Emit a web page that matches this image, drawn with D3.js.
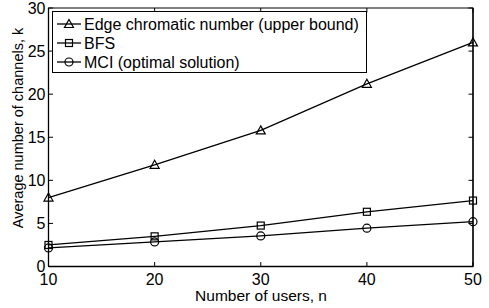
<!DOCTYPE html>
<html>
<head>
<meta charset="utf-8">
<script src="https://cdn.jsdelivr.net/npm/d3@7"></script>
<style>
body { margin: 0; background: #fff; }
text { font-family: "Liberation Sans", Arial, sans-serif; fill: #000; }
</style>
</head>
<body>
<svg width="489" height="308"></svg>
<script>
var users = [10, 20, 30, 40, 50];
var edgeChromatic = [8.0, 11.8, 15.8, 21.2, 26.0];
var bfs = [2.5, 3.5, 4.75, 6.35, 7.65];
var mci = [2.15, 2.85, 3.55, 4.45, 5.2];
var xTicks = [10, 20, 30, 40, 50];
var yTicks = [0, 5, 10, 15, 20, 25, 30];

var series = [
    {name: "Edge chromatic number (upper bound)", values: edgeChromatic, marker: "triangle"},
    {name: "BFS", values: bfs, marker: "square"},
    {name: "MCI (optimal solution)", values: mci, marker: "circle"}
];

var svg = d3.select('svg');
var pLeft = 48.5, pRight = 473, pTop = 8, pBottom = 266.5;

var x = d3.scaleLinear().domain([10, 50]).range([pLeft, pRight]);
var y = d3.scaleLinear().domain([0, 30]).range([pBottom, pTop]);

// axes box
var g = svg.append('g');
g.append('rect')
    .attr('x', pLeft).attr('y', pTop)
    .attr('width', pRight - pLeft).attr('height', pBottom - pTop)
    .attr('fill', 'none').attr('stroke', '#000').attr('stroke-width', 1);

// inner ticks on all four sides (matlab style)
var tl = 4.5;
xTicks.forEach(function (t) {
    g.append('line').attr('x1', x(t)).attr('x2', x(t)).attr('y1', pBottom).attr('y2', pBottom - tl).attr('stroke', '#000');
    g.append('line').attr('x1', x(t)).attr('x2', x(t)).attr('y1', pTop).attr('y2', pTop + tl).attr('stroke', '#000');
    g.append('text').attr('x', x(t)).attr('y', pBottom + 18)
        .attr('text-anchor', 'middle').attr('font-size', 16).text(t);
});
yTicks.forEach(function (t) {
    g.append('line').attr('x1', pLeft).attr('x2', pLeft + tl).attr('y1', y(t)).attr('y2', y(t)).attr('stroke', '#000');
    g.append('line').attr('x1', pRight).attr('x2', pRight - tl).attr('y1', y(t)).attr('y2', y(t)).attr('stroke', '#000');
    g.append('text').attr('x', pLeft - 3).attr('y', y(t) + 5.5)
        .attr('text-anchor', 'end').attr('font-size', 16).text(t);
});
g.append('line').attr('x1', pLeft).attr('x2', pRight).attr('y1', pBottom).attr('y2', pBottom).attr('stroke', '#000').attr('stroke-width', 1.6);
g.append('line').attr('x1', pLeft).attr('x2', pLeft).attr('y1', pTop).attr('y2', pBottom).attr('stroke', '#000').attr('stroke-width', 1.3);
g.append('line').attr('x1', pRight).attr('x2', pRight).attr('y1', pTop).attr('y2', pBottom).attr('stroke', '#000').attr('stroke-width', 1.3);

// axis labels
svg.append('text').attr('x', 261).attr('y', 301)
    .attr('text-anchor', 'middle').attr('font-size', 15.5).text('Number of users, n');
svg.append('text').attr('transform', 'translate(23,128) rotate(-90)')
    .attr('text-anchor', 'middle').attr('font-size', 14.5).text('Average number of channels, k');

function drawMarker(sel, type, cx, cy) {
    if (type == "triangle") {
        sel.append('path')
            .attr('d', 'M' + cx + ',' + (cy - 4.5) + 'L' + (cx + 4.5) + ',' + (cy + 3.5) + 'L' + (cx - 4.5) + ',' + (cy + 3.5) + 'Z')
            .attr('fill', 'none').attr('stroke', '#000').attr('stroke-width', 1.2);
    } else if (type == "square") {
        sel.append('rect').attr('x', cx - 3.5).attr('y', cy - 3.5).attr('width', 7).attr('height', 7)
            .attr('fill', 'none').attr('stroke', '#000').attr('stroke-width', 1.2);
    } else {
        sel.append('circle').attr('cx', cx).attr('cy', cy).attr('r', 4)
            .attr('fill', 'none').attr('stroke', '#000').attr('stroke-width', 1.2);
    }
}

var line = d3.line()
    .x(function (d, i) { return x(users[i]); })
    .y(function (d) { return y(d); });

series.forEach(function (s) {
    var sg = svg.append('g');
    sg.append('path').attr('d', line(s.values))
        .attr('fill', 'none').attr('stroke', '#000').attr('stroke-width', 1.3);
    s.values.forEach(function (v, i) {
        drawMarker(sg, s.marker, x(users[i]), y(v));
    });
});

// legend
var lg = svg.append('g');
lg.append('rect').attr('x', 52.5).attr('y', 11.5).attr('width', 314).attr('height', 61)
    .attr('fill', '#fff').attr('stroke', '#000').attr('stroke-width', 1);
series.forEach(function (s, i) {
    var cy = 24 + i * 19;
    lg.append('line').attr('x1', 57).attr('x2', 81).attr('y1', cy).attr('y2', cy)
        .attr('stroke', '#000').attr('stroke-width', 1.3);
    drawMarker(lg, s.marker, 69, cy);
    lg.append('text').attr('x', 84).attr('y', cy + 6).attr('font-size', 16).text(s.name);
});
</script>
</body>
</html>
